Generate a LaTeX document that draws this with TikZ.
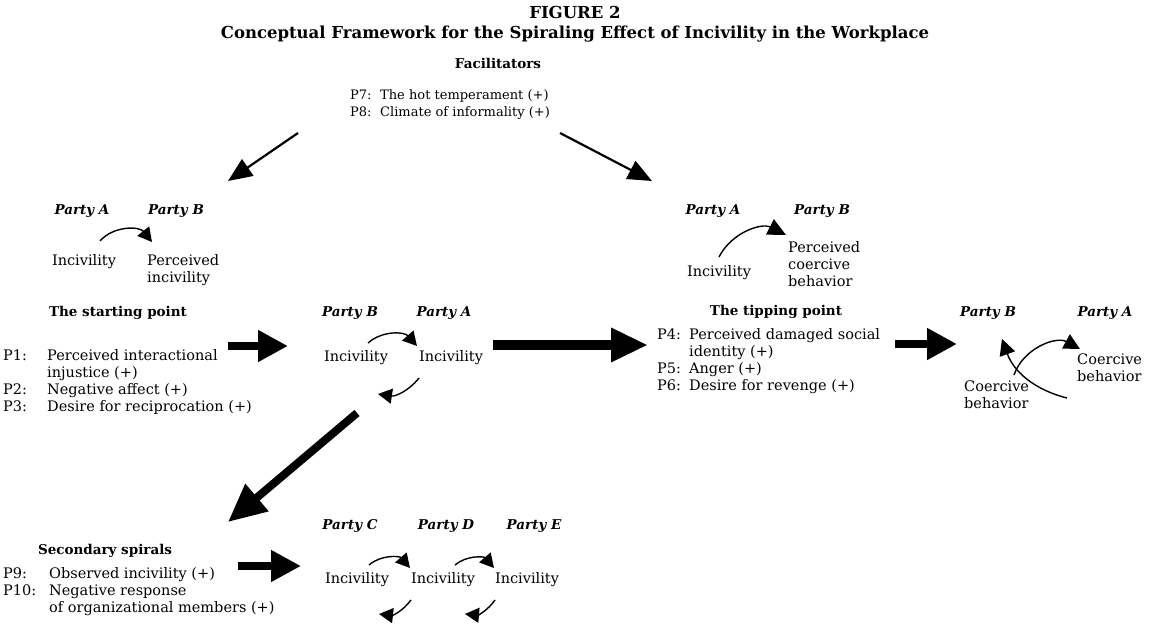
\documentclass[tikz,border=0pt]{standalone}
\usepackage{fontspec}
\setmainfont{DejaVu Serif}
\usetikzlibrary{arrows.meta,calc}
\begin{document}
\begin{tikzpicture}[x=1pt,y=-1pt,
    every node/.style={inner sep=0pt},
    ttl/.style={font=\fontsize{16.5}{20}\selectfont\bfseries},
    hd/.style={font=\fontsize{13.5}{17}\selectfont\bfseries},
    pty/.style={font=\fontsize{13.5}{17}\selectfont\bfseries\itshape},
    txt/.style={font=\fontsize{14.5}{17}\selectfont},
    lst/.style={txt, anchor=north west},
    spin/.style={line width=1.4pt, -{Triangle[length=14pt,width=15pt]}},
    pointer/.style={line width=2.2pt, -{Triangle[length=24pt,width=20pt]}},
    fat/.style={line width=8pt, -{Triangle[length=30pt,width=30pt]}}]
    \useasboundingbox (0,0) rectangle (1160,626);

    % titles
    \node [ttl] (fig) at (575,12) {FIGURE 2};
    \node [ttl] (title) at (575,34) {Conceptual Framework for the Spiraling Effect of Incivility in the Workplace};

    % facilitators
    \node [hd] (facil) at (498,63) {Facilitators};
    \node [lst, font=\fontsize{13}{17}\selectfont] (faclist) at (350,87) {\begin{tabular}{@{}p{30pt}@{}l@{}}
        P7: & The hot temperament (+)\\
        P8: & Climate of informality (+)\end{tabular}};
    \coordinate (facL) at (298,133);
    \coordinate (facR) at (560,133);
    \coordinate (grpL) at (228,181);
    \coordinate (grpR) at (652,181);
    \draw [pointer] (facL) -- (grpL);
    \draw [pointer] (facR) -- (grpR);

    % party A -> party B, perceived incivility
    \node [pty] (pa1) at (82,211) {Party A};
    \node [pty] (pb1) at (176,211) {Party B};
    \node [txt] (inc1) at (84,262) {Incivility};
    \node [txt, anchor=north west, align=left] (perc1) at (147,254) {Perceived\\incivility};
    \path [spin] ($(inc1)+(16,-21)$) edge [bend left=50] ($(perc1.north west)+(5,-12)$);

    % the starting point
    \node [hd] (start) at (118,313) {The starting point};
    \node [lst] (startlist) at (3,348) {\begin{tabular}{@{}p{44pt}@{}l@{}}
        P1: & Perceived interactional\\
            & injustice (+)\\
        P2: & Negative affect (+)\\
        P3: & Desire for reciprocation (+)\end{tabular}};
    \coordinate (startR) at (228,346);
    \coordinate (spinL) at (288,346);
    \draw [fat] (startR) -- (spinL);

    % first spiral
    \node [pty] (pb2) at (350,313) {Party B};
    \node [pty] (pa2) at (444,313) {Party A};
    \node [txt] (inc2b) at (356,358) {Incivility};
    \node [txt] (inc2a) at (451,358) {Incivility};
    \path [spin] ($(inc2b)+(12,-15)$) edge [bend left=45] ($(inc2a)+(-34,-12)$);
    \path [spin] ($(inc2a)+(-32,20)$) edge [bend left=30] ($(inc2b)+(22,36)$);
    \coordinate (spinR) at (493,345);
    \coordinate (tipL) at (648,345);
    \draw [fat, line width=10pt, -{Triangle[length=37pt,width=32pt]}] (spinR) -- (tipL);
    \coordinate (spinS) at (357,413);
    \coordinate (secN) at (228,522);
    \draw [fat, -{Triangle[length=38pt,width=34pt]}] (spinS) -- (secN);

    % party A -> party B, perceived coercive behavior
    \node [pty] (pa3) at (713,211) {Party A};
    \node [pty] (pb3) at (822,211) {Party B};
    \node [txt] (inc3) at (719,273) {Incivility};
    \node [txt, anchor=north west, align=left] (perc3) at (788,241) {Perceived\\coercive\\behavior};
    \path [spin, -{Triangle[length=18pt,width=17pt]}] ($(inc3)+(0,-16)$) edge [bend left=45] ($(perc3.north west)+(-2,-6)$);

    % the tipping point
    \node [hd] (tip) at (776,312) {The tipping point};
    \node [lst] (tiplist) at (657,327) {\begin{tabular}{@{}p{32pt}@{}l@{}}
        P4: & Perceived damaged social\\
            & identity (+)\\
        P5: & Anger (+)\\
        P6: & Desire for revenge (+)\end{tabular}};
    \coordinate (tipR) at (895,344);
    \coordinate (coerL) at (957,344);
    \draw [fat] (tipR) -- (coerL);

    % coercive behavior
    \node [pty] (pb4) at (988,313) {Party B};
    \node [pty] (pa4) at (1105,313) {Party A};
    \node [txt, anchor=north west, align=left] (coera) at (1077,354) {Coercive\\behavior};
    \node [txt, anchor=north west, align=left] (coerb) at (964,381) {Coercive\\behavior};
    \path [spin, -{Triangle[length=16pt,width=16pt]}] ($(coerb.north west)+(50,-6)$) edge [bend left=50] ($(coera.north west)+(3,-5)$);
    \path [spin, -{Triangle[length=16pt,width=16pt]}] ($(coera.north west)+(-10,44)$) edge [bend left=28] ($(pb4)+(14,26)$);

    % secondary spirals
    \node [hd] (second) at (105,551) {Secondary spirals};
    \node [lst] (seclist) at (3,566) {\begin{tabular}{@{}p{46pt}@{}l@{}}
        P9: & Observed incivility (+)\\
        P10: & Negative response\\
             & of organizational members (+)\end{tabular}};
    \coordinate (secR) at (238,566);
    \coordinate (spinC) at (301,566);
    \draw [fat] (secR) -- (spinC);
    \node [pty] (pc) at (350,526) {Party C};
    \node [pty] (pd) at (446,526) {Party D};
    \node [pty] (pe) at (534,526) {Party E};
    \node [txt] (inc5c) at (357,580) {Incivility};
    \node [txt] (inc5d) at (443,580) {Incivility};
    \node [txt] (inc5e) at (527,580) {Incivility};
    \path [spin] ($(inc5c)+(12,-15)$) edge [bend left=45] ($(inc5d)+(-33,-12)$);
    \path [spin] ($(inc5d)+(-32,20)$) edge [bend left=30] ($(inc5c)+(22,34)$);
    \path [spin] ($(inc5d)+(12,-15)$) edge [bend left=45] ($(inc5e)+(-33,-12)$);
    \path [spin] ($(inc5e)+(-32,20)$) edge [bend left=30] ($(inc5d)+(22,34)$);
\end{tikzpicture}
\end{document}
